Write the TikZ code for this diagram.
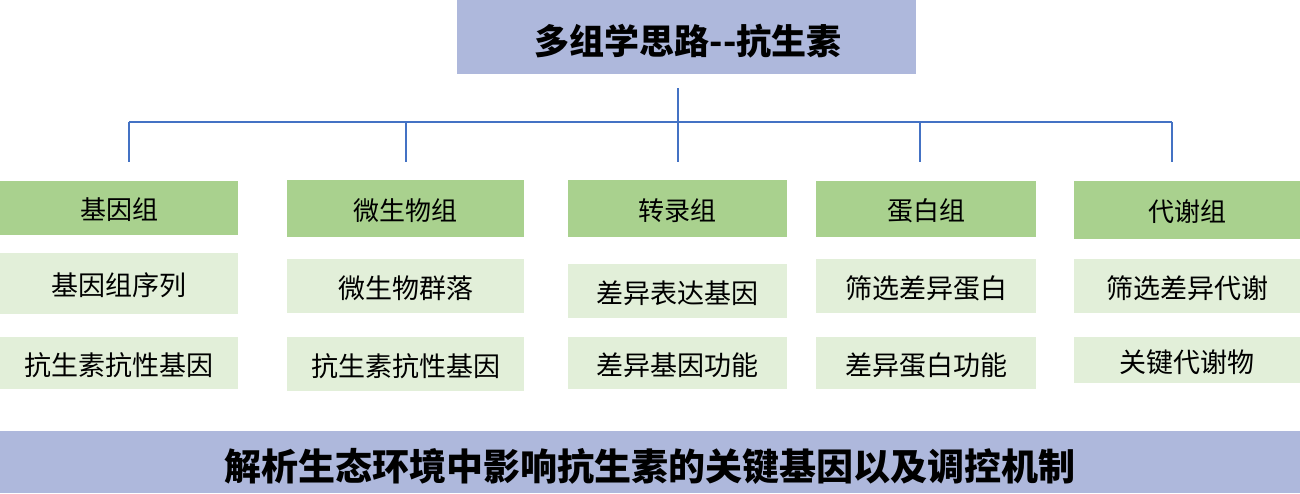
\documentclass[tikz,border=0pt]{standalone}
\usepackage{fontspec}
\setmainfont{Noto Sans CJK SC}
\begin{document}
\begin{tikzpicture}[x=1pt,y=-1pt,
  lav/.style={fill={rgb,255:red,174;green,184;blue,220},draw=none},
  hdr/.style={fill={rgb,255:red,169;green,209;blue,142},draw=none},
  sub/.style={fill={rgb,255:red,226;green,239;blue,217},draw=none},
  ln/.style={draw={rgb,255:red,68;green,114;blue,196},line width=1.5pt}]
\useasboundingbox (0,0) rectangle (1300,493);
\fill[lav] (457,0) rectangle (916,74);
\node[font=\fontsize{35}{40}\selectfont\bfseries] (title) at (688,41) {多组学思路-{}-抗生素};
\coordinate (t0) at (678,88); \coordinate (t1) at (678,122);
\draw[ln] (t0) -- (t1);
\coordinate (hl) at (129,122); \coordinate (hr) at (1172,122);
\draw[ln] (hl) -- (hr);
\foreach \x in {129,406,678,920,1172}{\draw[ln] (\x,122) -- (\x,162);}
\foreach \xa/\xb/\ha/\hb/\aa/\ab/\ba/\bb/\h/\sa/\sb [count=\i] in {
 0/238/181/235/253/314/337/389/基因组/基因组序列/抗生素抗性基因,
 287/524/180/237/259/313/337/391/微生物组/微生物群落/抗生素抗性基因,
 568/787/180/237/264/318/337/389/转录组/差异表达基因/差异基因功能,
 816/1036/181/237/259/313/337/389/蛋白组/筛选差异蛋白/差异蛋白功能,
 1074/1300/181/239/259/313/337/383/代谢组/筛选差异代谢/关键代谢物}{
 \fill[hdr] (\xa,\ha) rectangle (\xb,\hb);
 \node[font=\fontsize{26}{30}\selectfont] (h\i) at ({(\xa+\xb)/2},{(\ha+\hb)/2+2}) {\h};
 \fill[sub] (\xa,\aa) rectangle (\xb,\ab);
 \node[font=\fontsize{27}{31}\selectfont] (a\i) at ({(\xa+\xb)/2},{(\aa+\ab)/2+2}) {\sa};
 \fill[sub] (\xa,\ba) rectangle (\xb,\bb);
 \node[font=\fontsize{27}{31}\selectfont] (b\i) at ({(\xa+\xb)/2},{(\ba+\bb)/2+2}) {\sb};
}
\fill[lav] (0,431) rectangle (1300,493);
\node[font=\fontsize{37}{42}\selectfont\bfseries] (bottom) at (650,466) {解析生态环境中影响抗生素的关键基因以及调控机制};
\end{tikzpicture}
\end{document}
